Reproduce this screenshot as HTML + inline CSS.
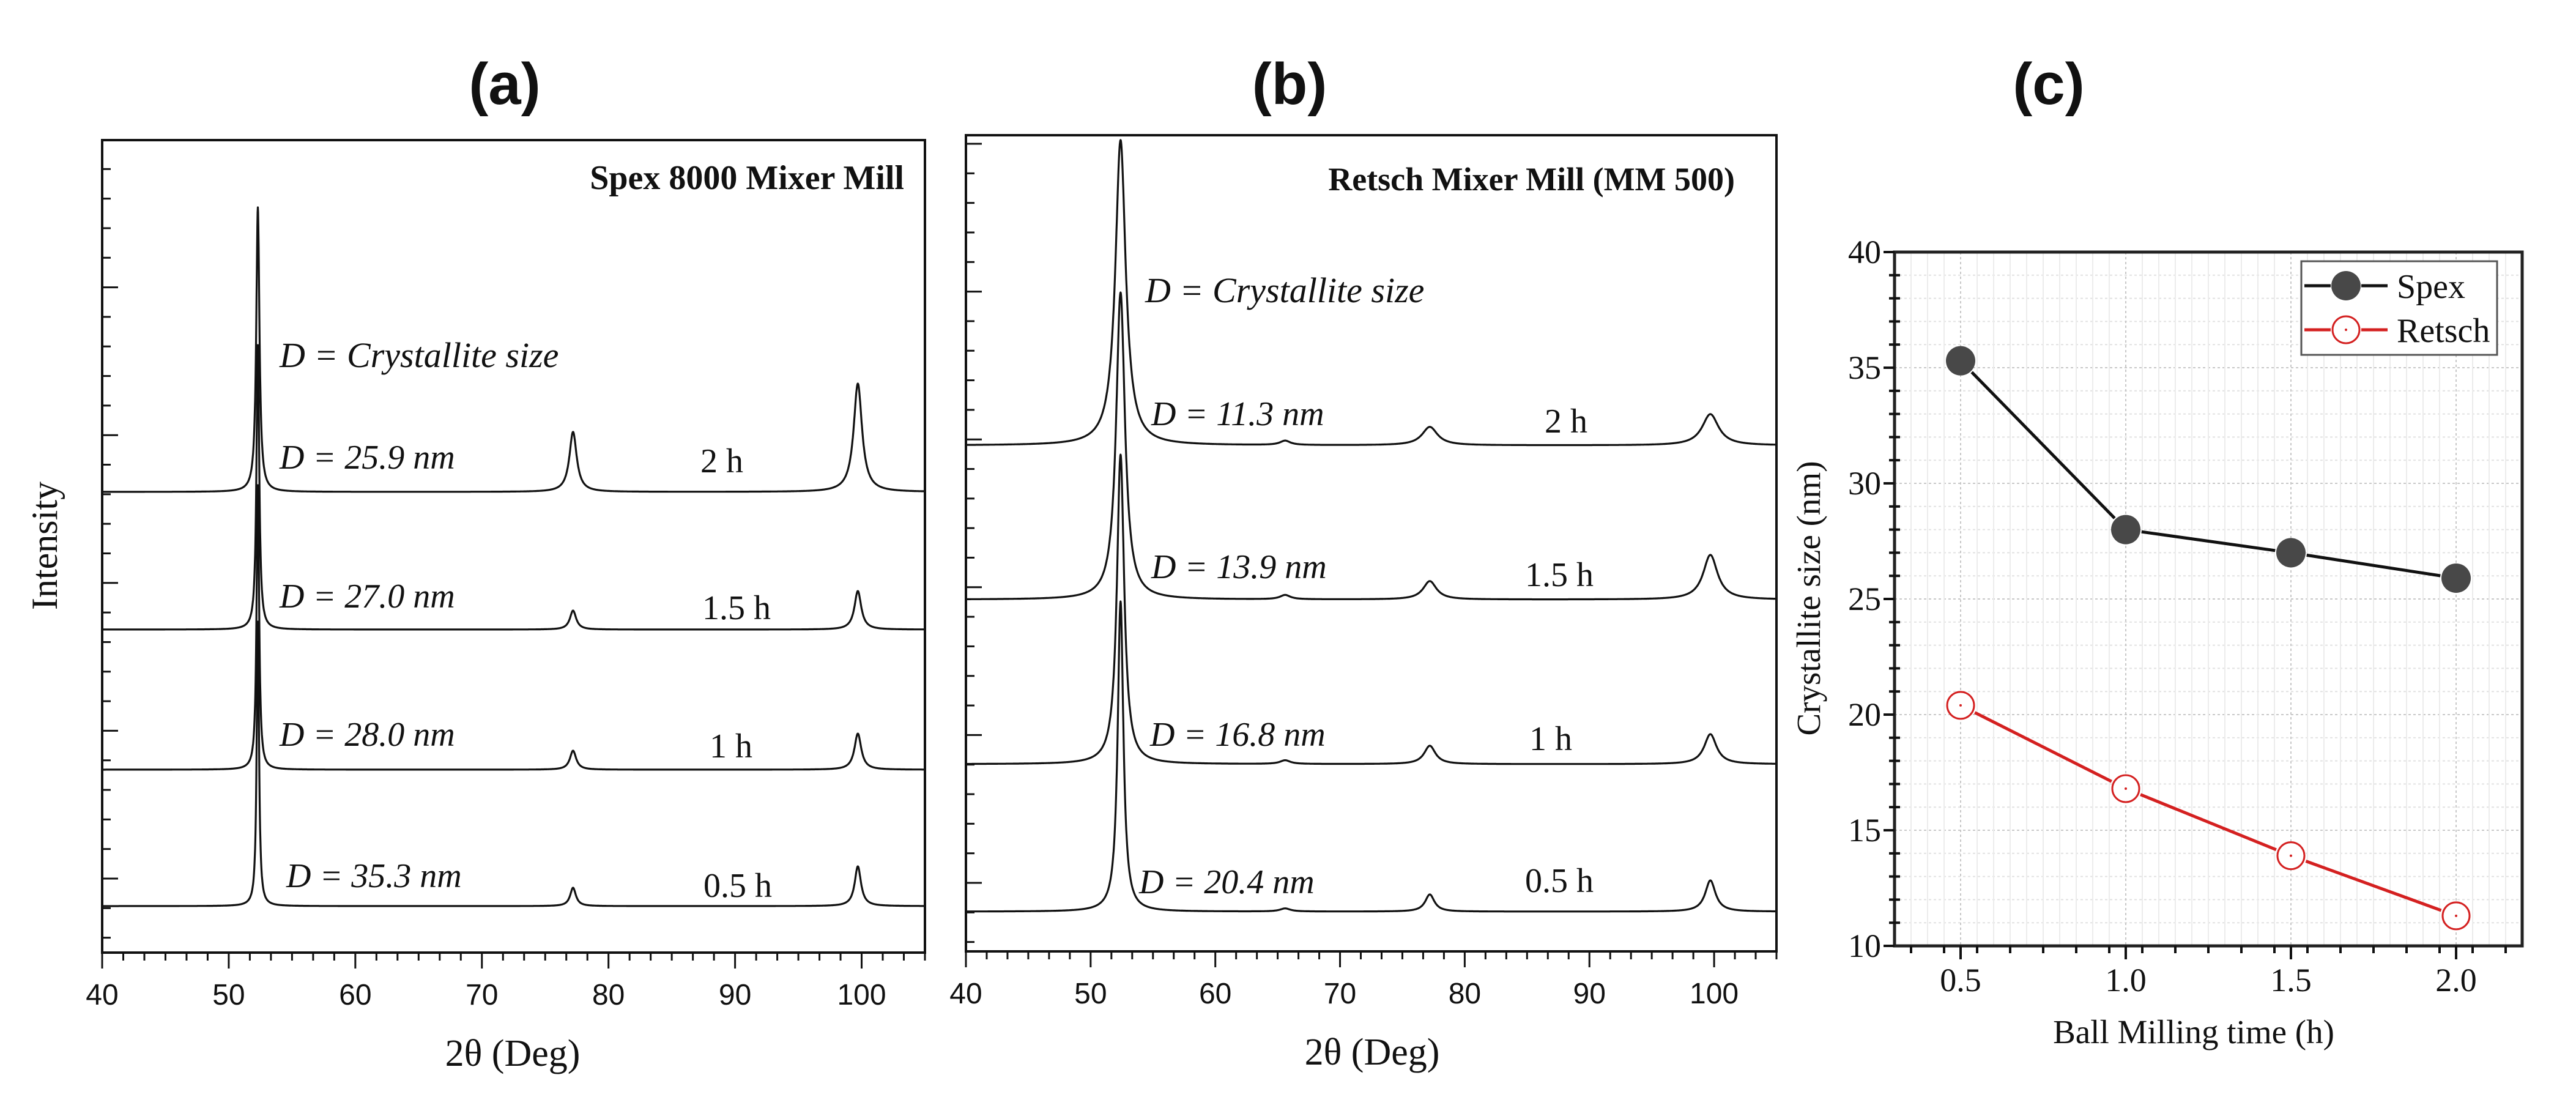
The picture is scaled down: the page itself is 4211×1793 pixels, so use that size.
<!DOCTYPE html>
<html><head><meta charset="utf-8">
<style>
html,body{margin:0;padding:0;background:#fff;}
svg{display:block;}
text{fill:#111;}
.serif{font-family:"Liberation Serif",serif;}
.sans{font-family:"Liberation Sans",sans-serif;}
</style></head>
<body>
<svg id="fig" xmlns="http://www.w3.org/2000/svg" width="4211" height="1793" viewBox="0 0 4211 1793">
<rect width="4211" height="1793" fill="#fff"/>
<g id="pa"></g>
<g id="pb"></g>
<g id="pc"></g>
</svg>
<script>
// ---------- Data: panel (a) Spex XRD ----------
const aTimes = ["0.5 h","1 h","1.5 h","2 h"];
const aSizes = ["D = 35.3 nm","D = 28.0 nm","D = 27.0 nm","D = 25.9 nm"];
const aOffsets = [76, 299, 528, 753];
const aPeakPos = [52.3, 77.2, 99.7];
const aMainH = [465, 465, 465, 465];
const aMainW = [0.22, 0.24, 0.26, 0.3];
const a77H = [30, 31, 31, 98];
const a77W = [0.55, 0.6, 0.6, 0.7];
const a100H = [65, 59, 63, 177];
const a100W = [0.6, 0.65, 0.65, 0.8];
// ---------- Data: panel (b) Retsch XRD ----------
const bTimes = ["0.5 h","1 h","1.5 h","2 h"];
const bSizes = ["D = 20.4 nm","D = 16.8 nm","D = 13.9 nm","D = 11.3 nm"];
const bOffsets = [65, 306, 575, 827];
const bPeakPos = [52.4, 65.6, 77.2, 99.7];
const bMainH = [507, 506, 502, 499];
const bMainW = [0.55, 0.7, 0.85, 1.0];
const b65H = [5, 6, 7, 7];
const b77H = [28, 30, 30, 30];
const b77W = [0.9, 1.1, 1.3, 1.5];
const b100H = [51, 49, 73, 51];
const b100W = [1.0, 1.2, 1.4, 1.6];
const xTicks = [40,50,60,70,80,90,100];
// ---------- Data: panel (c) ----------
const cTimes = [0.5, 1.0, 1.5, 2.0];
const spex = [35.3, 28.0, 27.0, 25.9];
const retsch = [20.4, 16.8, 13.9, 11.3];
const cXTicks = ["0.5","1.0","1.5","2.0"];
const cYTicks = [10,15,20,25,30,35,40];

const NS="http://www.w3.org/2000/svg";
function mk(parent,tag,attrs,txt){const e=document.createElementNS(NS,tag);for(const k in attrs)e.setAttribute(k,attrs[k]);if(txt!==undefined)e.textContent=txt;parent.appendChild(e);return e;}
function lor(x,c,w){const g=w/2;return g*g/((x-c)*(x-c)+g*g);}

function xrdPanel(g,P){
  const sx=v=>P.L+(v-40)/(105-40)*(P.R-P.L);
  const sy=v=>P.B-v;
  const t=mk(g,'text',{x:P.titleX,y:P.titleY,'text-anchor':'middle','font-size':96,'font-weight':'bold','class':'sans'},P.title);
  
  
  for(let i=0;i<4;i++){
    let d='';
    for(let x=40;x<=105.0001;x+=0.02){
      let y=P.off[i]+P.peaks(i,x);
      d+=(d?'L':'M')+sx(x).toFixed(1)+' '+sy(y).toFixed(1);
    }
    const p=mk(g,'path',{d:d,fill:'none',stroke:'#111','stroke-width':3.2,'stroke-linejoin':'round'});
    
    
  }
  const fr=mk(g,'rect',{x:P.L,y:P.T,width:P.R-P.L,height:P.B-P.T,fill:'none',stroke:'#111','stroke-width':4});
  
  
  for(let k=0;k<30;k++){
    const y=P.yMaj0-k*(P.yStep/5);
    if(y<P.T+5) break;
    mk(g,'line',{x1:P.L,x2:P.L+(k%5==0?26:14),y1:y,y2:y,stroke:'#111','stroke-width':3});
  }
  for(let k=1;k<6;k++){
    const y=P.yMaj0+k*(P.yStep/5);
    if(y>P.B-5) break;
    mk(g,'line',{x1:P.L,x2:P.L+14,y1:y,y2:y,stroke:'#111','stroke-width':3});
  }
  for(let v=40;v<=105.001;v+=10/6){
    const maj=Math.abs(v-Math.round(v/10)*10)<0.01;
    mk(g,'line',{x1:sx(v),x2:sx(v),y1:P.B,y2:P.B+(maj?26:13),stroke:'#111','stroke-width':3});
  }
  xTicks.forEach(v=>{
    const tl=mk(g,'text',{x:sx(v),y:P.B+85,'text-anchor':'middle','font-size':48,'class':'sans'},String(v));
    
    
  });
  const xt=mk(g,'text',{x:P.xtX,y:P.B+185,'text-anchor':'middle','font-size':62,'class':'serif'},'2θ (Deg)');
  
  
  const mill=mk(g,'text',{x:P.millX,y:P.millY,'text-anchor':'end','font-size':P.millFS,'font-weight':'bold','class':'serif'},P.mill);
  
  
  const dc=mk(g,'text',{x:P.dcX,y:P.dcY,'font-size':58,'font-style':'italic','class':'serif'},'D = Crystallite size');
  
  
  for(let i=0;i<4;i++){
    const s=mk(g,'text',{x:P.sizeX[i],y:P.sizeY[i],'font-size':56,'font-style':'italic','class':'serif'},P.sizes[i]);
    
    
    const tt=mk(g,'text',{x:P.timeX[i],y:P.timeY[i],'font-size':56,'class':'serif'},P.times[i]);
    
    
  }
}

xrdPanel(document.getElementById('pa'),{
  L:167,R:1512,T:229,B:1557,title:'(a)',titleX:825,titleY:170,
  off:aOffsets,times:aTimes,sizes:aSizes,
  peaks:(i,x)=>aMainH[i]*lor(x,aPeakPos[0],aMainW[i])+a77H[i]*lor(x,aPeakPos[1],a77W[i])+a100H[i]*lor(x,aPeakPos[2],a100W[i]),
  yMaj0:1436,yStep:241.6,xtX:838,
  mill:'Spex 8000 Mixer Mill',millX:1478,millY:309,millFS:56,
  dcX:457,dcY:600,
  sizeX:[468,457,457,457],sizeY:[1450,1219,993,766],
  timeX:[1150,1160,1148,1145],timeY:[1466,1238,1012,772]
});
xrdPanel(document.getElementById('pb'),{
  L:1579,R:2904,T:221,B:1555,title:'(b)',titleX:2108,titleY:170,
  off:bOffsets,times:bTimes,sizes:bSizes,
  peaks:(i,x)=>bMainH[i]*lor(x,bPeakPos[0],bMainW[i])+b65H[i]*lor(x,bPeakPos[1],1.0)+b77H[i]*lor(x,bPeakPos[2],b77W[i])+b100H[i]*lor(x,bPeakPos[3],b100W[i]),
  yMaj0:1443,yStep:241.6,xtX:2243,
  mill:'Retsch Mixer Mill (MM 500)',millX:2836,millY:311,millFS:54,
  dcX:1872,dcY:494,
  sizeX:[1862,1880,1882,1882],sizeY:[1460,1219,945,695],
  timeX:[2493,2500,2493,2525],timeY:[1458,1226,958,707]
});
(function(){
  const g=document.getElementById('pa');
  const t=mk(g,'text',{x:0,y:0,transform:'translate(93,892) rotate(-90)','text-anchor':'middle','font-size':60,'class':'serif'},'Intensity');
  
  
})();

(function(){
  const g=document.getElementById('pc');
  const L=3097,R=4123,T=412,B=1546;
  const sx=v=>L+(v-0.3)/(2.2-0.3)*(R-L);
  const sy=v=>B-(v-10)/(40-10)*(B-T);
  const t=mk(g,'text',{x:3349,y:170,'text-anchor':'middle','font-size':96,'font-weight':'bold','class':'sans'},'(c)');
  
  
  for(let v=11;v<40;v++){
    mk(g,'line',{x1:L,x2:R,y1:sy(v),y2:sy(v),stroke:v%5==0?'#c8c8c8':'#e2e2e2','stroke-width':2,'stroke-dasharray':'4 4'});
  }
  for(let v=0.35;v<2.2;v+=0.05){
    const maj=Math.abs(v*2-Math.round(v*2))<0.01;
    mk(g,'line',{x1:sx(v),x2:sx(v),y1:T,y2:B,stroke:maj?'#c8c8c8':'#ececec','stroke-width':2,'stroke-dasharray':maj?'4 4':'none'});
  }
  const fr=mk(g,'rect',{x:L,y:T,width:R-L,height:B-T,fill:'none',stroke:'#222','stroke-width':5});
  
  
  for(let v=10;v<=40;v++){
    mk(g,'line',{x1:L-(v%5==0?18:0),x2:L+(v%5==0?0:9),y1:sy(v),y2:sy(v),stroke:'#111','stroke-width':4});
    if(v%5!=0) mk(g,'line',{x1:L-9,x2:L,y1:sy(v),y2:sy(v),stroke:'#111','stroke-width':4});
  }
  cYTicks.forEach(v=>{
    const tl=mk(g,'text',{x:3075,y:sy(v)+18,'text-anchor':'end','font-size':54,'class':'serif'},String(v));
    
    
  });
  for(let v=0.35;v<2.2;v+=0.1){
    mk(g,'line',{x1:sx(v),x2:sx(v),y1:B,y2:B+12,stroke:'#111','stroke-width':4});
  }
  cTimes.forEach((v,i)=>{
    mk(g,'line',{x1:sx(v),x2:sx(v),y1:B,y2:B+22,stroke:'#111','stroke-width':4});
    const tl=mk(g,'text',{x:sx(v),y:1620,'text-anchor':'middle','font-size':54,'class':'serif'},cXTicks[i]);
    
    
  });
  const xt=mk(g,'text',{x:3586,y:1705,'text-anchor':'middle','font-size':55,'class':'serif'},'Ball Milling time (h)');
  
  
  const yt=mk(g,'text',{x:0,y:0,transform:'translate(2975,978) rotate(-90)','text-anchor':'middle','font-size':55,'class':'serif'},'Crystallite size (nm)');
  
  
  function series(vals,color,filled,name){
    const gap=26;
    for(let i=0;i<vals.length-1;i++){
      const x1=sx(cTimes[i]),y1=sy(vals[i]),x2=sx(cTimes[i+1]),y2=sy(vals[i+1]);
      const dx=x2-x1,dy=y2-y1,len=Math.hypot(dx,dy);
      const l=mk(g,'line',{x1:x1+dx/len*gap,y1:y1+dy/len*gap,x2:x2-dx/len*gap,y2:y2-dy/len*gap,stroke:color,'stroke-width':5});
      
      
    }
    vals.forEach((v,i)=>{
      const c=mk(g,'circle',{cx:sx(cTimes[i]),cy:sy(v),r:filled?24:22,fill:filled?'#484848':'#fff',stroke:filled?'none':color,'stroke-width':3});
      
      
      if(!filled) mk(g,'circle',{cx:sx(cTimes[i]),cy:sy(v),r:2,fill:color});
    });
  }
  series(spex,'#111',true,'spex');
  series(retsch,'#d42020',false,'retsch');
  const lg=mk(g,'g',{});
  
  
  mk(lg,'rect',{x:3762,y:427,width:320,height:153,fill:'#fff',stroke:'#555','stroke-width':3});
  [[467,'#111',true,'Spex'],[539,'#d42020',false,'Retsch']].forEach(r=>{
    const e=mk(lg,'g',{});
    
    
    mk(e,'line',{x1:3767,x2:3810,y1:r[0],y2:r[0],stroke:r[1],'stroke-width':5});
    mk(e,'line',{x1:3860,x2:3903,y1:r[0],y2:r[0],stroke:r[1],'stroke-width':5});
    mk(e,'circle',{cx:3835,cy:r[0],r:r[2]?24:22,fill:r[2]?'#484848':'#fff',stroke:r[2]?'none':r[1],'stroke-width':3});
    if(!r[2]) mk(e,'circle',{cx:3835,cy:r[0],r:2,fill:r[1]});
    mk(e,'text',{x:3918,y:r[0]+20,'font-size':56,'class':'serif'},r[3]);
  });
})();
</script>
</body></html>
